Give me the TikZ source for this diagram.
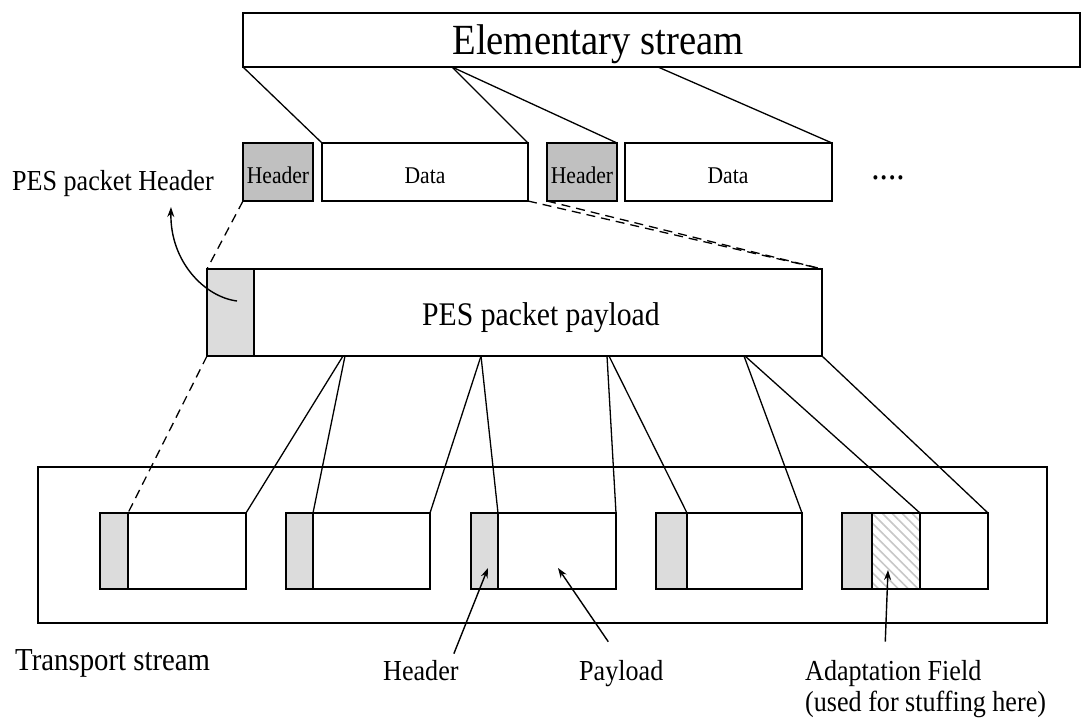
\documentclass[tikz,border=0pt]{standalone}
\usepackage{fontspec}
\usepackage{graphicx}
\setmainfont{Liberation Serif}
\usetikzlibrary{calc,arrows.meta,patterns.meta}
\newcommand{\sq}[1]{\scalebox{0.9}[1]{#1}}
\definecolor{hdark}{HTML}{C0C0C0}
\definecolor{hlight}{HTML}{DCDCDC}
\begin{document}
\begin{tikzpicture}[x=1pt,y=-1pt,
  box/.style={draw=black, line width=1.6pt, inner sep=0pt, outer sep=0pt, anchor=north west, fill=white},
  hd/.style={box, fill=hdark},
  hl/.style={box, fill=hlight},
  con/.style={line width=1.3pt, black},
  dsh/.style={con, dash pattern=on 9pt off 6pt},
  arr/.style={line width=1.4pt, -{Stealth[length=10pt,width=7pt]}},
  lbl/.style={inner sep=0pt, anchor=base west, font=\fontsize{29}{33}\selectfont}
]
\useasboundingbox (0,0) rectangle (1082,720);
\fill[white] (0,0) rectangle (1082,720);

% Elementary stream
\node[box, minimum width=837pt, minimum height=54pt] (es) at (243,13) {};
\node[inner sep=0pt, anchor=base, font=\fontsize{43}{43}\selectfont] (est) at (598,54) {\sq{Elementary stream}};

% PES packets row
\node[hd, minimum width=70pt, minimum height=58pt] (h1) at (243,143) {};
\node[box, minimum width=206pt, minimum height=58pt] (d1) at (322,143) {};
\node[hd, minimum width=70pt, minimum height=58pt] (h2) at (547,143) {};
\node[box, minimum width=207pt, minimum height=58pt] (d2) at (625,143) {};
\node[inner sep=0pt, anchor=base, font=\fontsize{24}{24}\selectfont] (h1t) at (278,183) {\sq{Header}};
\node[inner sep=0pt, anchor=base, font=\fontsize{24}{24}\selectfont] (h2t) at (582,183) {\sq{Header}};
\node[inner sep=0pt, anchor=base, font=\fontsize{24}{24}\selectfont] (d1t) at (425,183) {\sq{Data}};
\node[inner sep=0pt, anchor=base, font=\fontsize{24}{24}\selectfont] (d2t) at (728,183) {\sq{Data}};
\node[inner sep=0pt, anchor=base, font=\fontsize{37}{37}\selectfont] (dots) at (888,179) {\sq{....}};

\draw[con] (es.south west) -- (d1.north west);
\draw[con] ($(es.south west)+(209,0)$) -- (d1.north east);
\draw[con] ($(es.south west)+(209,0)$) -- (h2.north east);
\draw[con] ($(es.south west)+(415,0)$) -- (d2.north east);

% PES packet
\node[box, minimum width=615pt, minimum height=87pt] (pes) at (207,269) {};
\node[hl, minimum width=47pt, minimum height=87pt] (pesh) at (207,269) {};
\node[inner sep=0pt, anchor=base west, font=\fontsize{33}{33}\selectfont] (pest) at (422,325) {\sq{PES packet payload}};

\draw[dsh] (h1.south west) -- (pes.north west);
\draw[dsh] (d1.south east) -- (pes.north east);
\draw[dsh] (h2.south west) -- (pes.north east);

% PES packet Header label
\node[lbl] (pesl) at (12,190) {\sq{PES packet Header}};
\coordinate (hp) at (237,301);
\coordinate (hq) at (171,207);
\draw[arr] (hp) .. controls (205,297) and (170,262) .. (hq);

% Transport stream
\node[box, minimum width=1009pt, minimum height=156pt] (ts) at (38,467) {};
\node[box, minimum width=146pt, minimum height=76pt] (p1) at (100,513) {};
\node[hl, minimum width=28pt, minimum height=76pt] (p1h) at (100,513) {};
\node[box, minimum width=144pt, minimum height=76pt] (p2) at (286,513) {};
\node[hl, minimum width=27pt, minimum height=76pt] (p2h) at (286,513) {};
\node[box, minimum width=145pt, minimum height=76pt] (p3) at (471,513) {};
\node[hl, minimum width=27pt, minimum height=76pt] (p3h) at (471,513) {};
\node[box, minimum width=146pt, minimum height=76pt] (p4) at (656,513) {};
\node[hl, minimum width=31pt, minimum height=76pt] (p4h) at (656,513) {};
\node[box, minimum width=146pt, minimum height=76pt] (p5) at (842,513) {};
\node[hl, minimum width=30pt, minimum height=76pt] (p5h) at (842,513) {};
\node[box, minimum width=48pt, minimum height=76pt,
      postaction={pattern={Lines[angle=-45,distance=7pt,line width=1.6pt]}, pattern color=black!22}] (af) at (872,513) {};
\draw[line width=1.6pt] (af.north west) rectangle (af.south east);

% PES -> TS connectors
\draw[dsh] (pes.south west) -- (p1h.north east);
\draw[con] ($(pes.south west)+(136,0)$) -- (p1.north east);
\draw[con] ($(pes.south west)+(138,0)$) -- (p2h.north east);
\draw[con] ($(pes.south west)+(274,0)$) -- (p2.north east);
\draw[con] ($(pes.south west)+(274,0)$) -- (p3h.north east);
\draw[con] ($(pes.south west)+(400,0)$) -- (p3.north east);
\draw[con] ($(pes.south west)+(402,0)$) -- (p4h.north east);
\draw[con] ($(pes.south west)+(537,0)$) -- (p4.north east);
\draw[con] ($(pes.south west)+(538,0)$) -- (af.north east);
\draw[con] (pes.south east) -- (p5.north east);

% bottom labels
\node[inner sep=0pt, anchor=base west, font=\fontsize{32}{32}\selectfont] (tsl) at (15,670) {\sq{Transport stream}};
\node[lbl] (hdl) at (383,680) {\sq{Header}};
\node[lbl] (pll) at (579,680) {\sq{Payload}};
\node[lbl] (afl) at (805,680) {\sq{Adaptation Field}};
\node[lbl] (afl2) at (805,711) {\sq{(used for stuffing here)}};

\draw[arr] ($(hdl.north)+(33,-6)$) -- ($(p3h.south)+(3.5,-21)$);
\draw[arr] ($(pll.north)+(-13,-18)$) -- ($(p3.south)+(14.5,-21)$);
\draw[arr] ($(afl.north)+(-8,-18)$) -- ($(af.south)+(-8,-19)$);
\end{tikzpicture}
\end{document}
